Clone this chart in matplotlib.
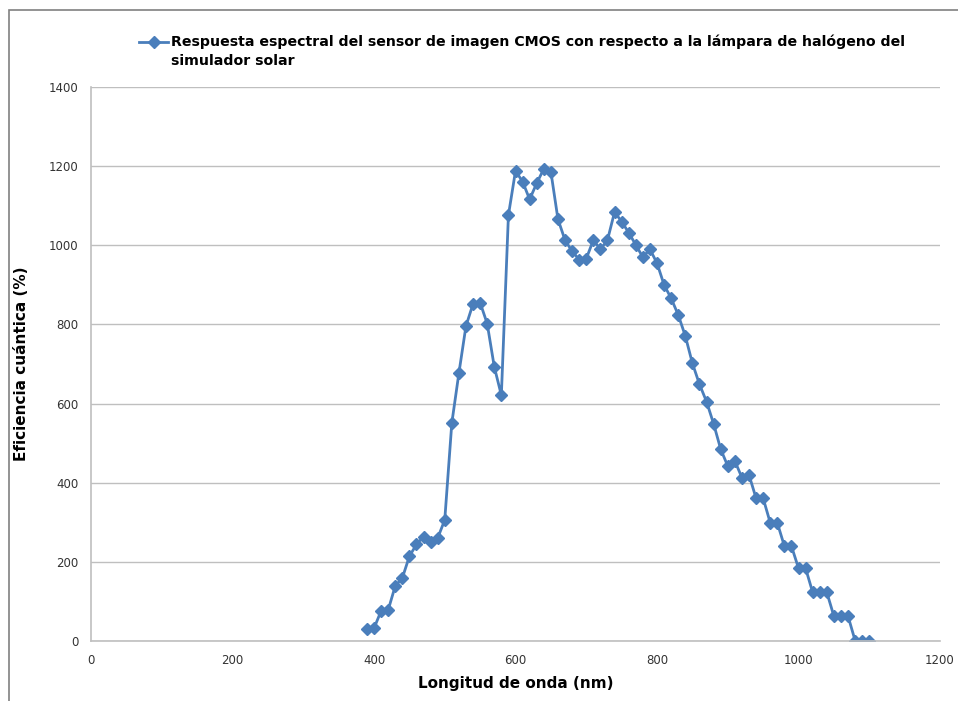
import matplotlib
matplotlib.use("Agg")
import matplotlib.pyplot as plt
from matplotlib.lines import Line2D
from matplotlib.patches import Rectangle

# longitud de onda (nm) y eficiencia
wl = list(range(390, 1101, 10))
qe = [30, 32, 76, 78, 139, 159, 214, 244, 264, 251, 260, 306,
      551, 677, 796, 852, 855, 802, 693, 621, 1076, 1188, 1161, 1116,
      1157, 1193, 1186, 1066, 1013, 985, 964, 966, 1013, 990, 1013, 1084,
      1060, 1032, 1001, 970, 990, 955, 900, 866, 824, 771, 702, 649,
      605, 549, 485, 442, 455, 413, 420, 361, 361, 299, 299, 240,
      240, 184, 184, 123, 123, 123, 63, 63, 63, 1, 1, 1]

xticks = [0, 200, 400, 600, 800, 1000, 1200]
yticks = [0, 200, 400, 600, 800, 1000, 1200, 1400]

leyenda = ['Respuesta espectral del sensor de imagen CMOS con respecto a la lámpara de halógeno del',
           'simulador solar']

azul = '#4A7EBB'
gris = '#BFBFBF'

fig = plt.figure(figsize=(9.58, 7.01), dpi=100)
ax = fig.add_axes([91/958, 60/701, 849/958, 554/701])

ax.plot(wl, qe, color=azul, lw=2.0, marker='D', ms=6.0, mfc=azul, mec=azul)

ax.set_xlim(0, 1200)
ax.set_ylim(0, 1400)
ax.set_xticks(xticks)
ax.set_yticks(yticks)
ax.tick_params(length=0, labelsize=8.5, labelcolor='#333333', pad=9)
ax.grid(axis='y', color=gris, lw=1)
ax.set_axisbelow(True)
for s in ['top', 'right']:
    ax.spines[s].set_visible(False)
for s in ['left', 'bottom']:
    ax.spines[s].set_color(gris)
    ax.spines[s].set_linewidth(1.2)

ax.set_xlabel('Longitud de onda (nm)', fontsize=11, fontweight='bold', labelpad=7)
ax.set_ylabel('Eficiencia cuántica (%)', fontsize=11, fontweight='bold', labelpad=14)

# leyenda manual
yl = 1 - 42/701
fig.add_artist(Line2D([139/958, 153.5/958, 168/958], [yl, yl, yl], color=azul, lw=2.0,
                      marker='D', ms=6.0, markevery=[1], transform=fig.transFigure))
fig.text(171/958, yl, leyenda[0], fontsize=10.2, fontweight='bold', va='center', ha='left')
fig.text(171/958, 1 - 61/701, leyenda[1], fontsize=10.2, fontweight='bold', va='center', ha='left')

# marco del grafico
fig.add_artist(Rectangle((9/958, -0.1), 1.2, 1 - 10/701 + 0.1, fill=False,
                         edgecolor='#808080', lw=1.2, transform=fig.transFigure))

fig.savefig('out.png', dpi=100)
